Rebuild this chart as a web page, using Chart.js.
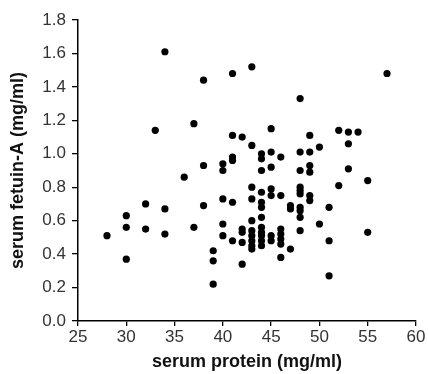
<!DOCTYPE html>
<html>
<head>
<meta charset="utf-8">
<script src="https://cdn.jsdelivr.net/npm/chart.js@4/dist/chart.umd.min.js"></script>
<style>
html,body{margin:0;padding:0;background:#fff;}
#c{display:block;}
</style>
</head>
<body>
<canvas id="c" width="428" height="374"></canvas>
<script>
// serum protein (mg/ml)
const proteinValues = [
  28,
  30, 30, 30,
  32, 32,
  33,
  34, 34, 34,
  36,
  37, 37,
  38, 38, 38,
  39, 39, 39,
  40, 40, 40, 40, 40,
  41, 41, 41, 41, 41, 41,
  42, 42, 42, 42, 42,
  43, 43, 43, 43, 43, 43, 43, 43, 43, 43,
  44, 44, 44, 44, 44, 44, 44, 44, 44, 44, 44, 44,
  45, 45, 45, 45, 45, 45, 45,
  46, 46, 46, 46, 46, 46, 46,
  47, 47, 47,
  48, 48, 48, 48, 48, 48, 48, 48, 48, 48,
  49, 49, 49, 49, 49, 49,
  50, 50,
  51, 51, 51,
  52, 52,
  53, 53, 53,
  54,
  55, 55,
  57
];
// serum fetuin-A (mg/ml)
const fetuinValues = [
  0.51,
  0.63, 0.56, 0.37,
  0.70, 0.55,
  1.14,
  1.61, 0.67, 0.52,
  0.86,
  1.18, 0.56,
  1.44, 0.93, 0.69,
  0.42, 0.36, 0.22,
  0.94, 0.90, 0.73, 0.58, 0.51,
  1.48, 1.11, 0.98, 0.96, 0.71, 0.48,
  1.10, 0.55, 0.53, 0.47, 0.34,
  1.52, 1.05, 0.80, 0.73, 0.60, 0.54, 0.51, 0.48, 0.45, 0.43,
  1.00, 0.97, 0.90, 0.77, 0.71, 0.68, 0.62, 0.56, 0.53, 0.51, 0.48, 0.45,
  1.15, 1.01, 0.92, 0.79, 0.75, 0.51, 0.48,
  0.98, 0.75, 0.55, 0.52, 0.49, 0.46, 0.38,
  0.69, 0.67, 0.43,
  1.33, 1.01, 0.90, 0.80, 0.78, 0.76, 0.68, 0.66, 0.62, 0.54,
  1.11, 1.01, 0.93, 0.89, 0.75, 0.72,
  1.04, 0.58,
  0.68, 0.48, 0.27,
  1.14, 0.81,
  1.13, 1.06, 0.91,
  1.13,
  0.84, 0.53,
  1.48
];
const xTicks = [25, 30, 35, 40, 45, 50, 55, 60];
const yTicks = [0.0, 0.2, 0.4, 0.6, 0.8, 1.0, 1.2, 1.4, 1.6, 1.8];
const xTitle = 'serum protein (mg/ml)';
const yTitle = 'serum fetuin-A (mg/ml)';

const points = proteinValues.map((x, i) => ({x: x, y: fetuinValues[i]}));
const FONT = '"Liberation Sans", Arial, sans-serif';

new Chart(document.getElementById('c'), {
  type: 'scatter',
  data: {
    datasets: [{
      data: points,
      backgroundColor: '#000',
      borderWidth: 0,
      pointRadius: 3.6,
      pointHoverRadius: 3.6
    }]
  },
  options: {
    responsive: false,
    devicePixelRatio: 1,
    animation: false,
    layout: {padding: {top: 20, right: 12, bottom: 0, left: 0}},
    plugins: {legend: {display: false}, tooltip: {enabled: false}},
    scales: {
      x: {
        type: 'linear',
        min: xTicks[0], max: xTicks[xTicks.length - 1],
        afterBuildTicks: s => { s.ticks = xTicks.map(v => ({value: v})); },
        afterFit: s => { s.height = 53; },
        grid: {display: true, drawOnChartArea: false, drawTicks: true, tickLength: 5, color: '#000', lineWidth: 1.3},
        border: {display: true, color: '#000', width: 1.5},
        ticks: {color: '#333', font: {family: FONT, size: 17}, padding: 1, maxRotation: 0},
        title: {display: true, text: xTitle, color: '#111', font: {family: FONT, size: 18, weight: 'bold'}, padding: {top: 0, bottom: 1}}
      },
      y: {
        type: 'linear',
        min: yTicks[0], max: yTicks[yTicks.length - 1],
        afterBuildTicks: s => { s.ticks = yTicks.map(v => ({value: v})); },
        afterFit: s => { s.width = 78; },
        grid: {display: true, drawOnChartArea: false, drawTicks: true, tickLength: 6, color: '#000', lineWidth: 1.3},
        border: {display: true, color: '#000', width: 1.5},
        ticks: {color: '#333', font: {family: FONT, size: 17}, padding: 6, callback: v => Number(v).toFixed(1)},
        title: {display: true, text: yTitle, color: '#111', font: {family: FONT, size: 18, weight: 'bold'}, padding: {top: 7, bottom: 0}}
      }
    }
  }
});
</script>
</body>
</html>
